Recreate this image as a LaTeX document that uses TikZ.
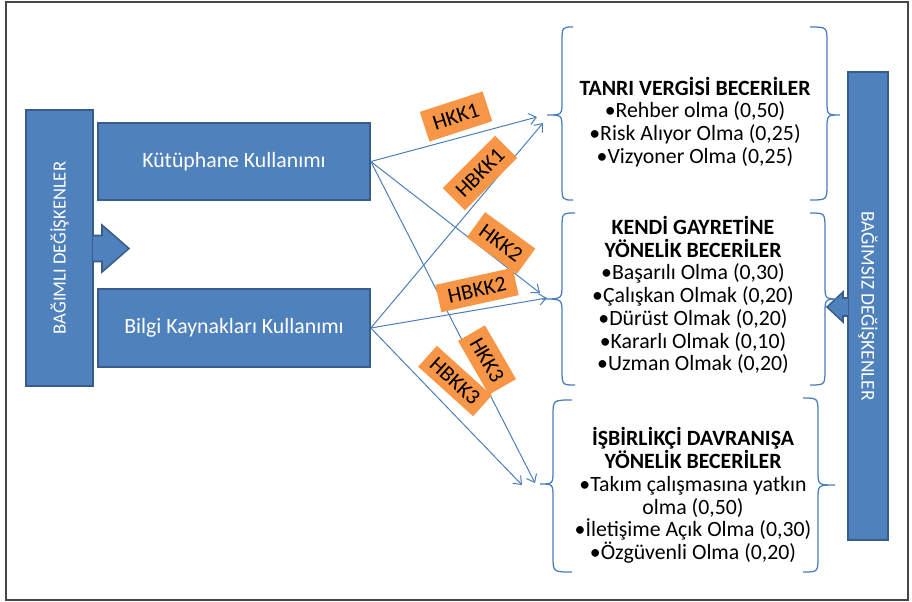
\documentclass[tikz,border=0pt]{standalone}
\usepackage{fontspec}
\setmainfont{Carlito}
\usepackage{tikz}
\usetikzlibrary{arrows.meta, positioning, calc}
\definecolor{boxblue}{RGB}{79, 129, 189}
\definecolor{boxborder}{RGB}{56, 93, 138}
\definecolor{linkblue}{RGB}{74, 126, 187}
\definecolor{tagorange}{RGB}{247, 150, 70}
\definecolor{framegray}{RGB}{70, 70, 70}

% curly bracket: end x, spine x, tip x, top y, tip y, bottom y
\newcommand{\curlbrace}[6]{%
  \draw[brace] (#1,#4) .. controls (#2,#4) .. (#2,{#4+16}) -- (#2,{#5-14})
    .. controls (#2,#5) .. (#3,#5) .. controls (#2,#5) .. (#2,{#5+14})
    -- (#2,{#6-16}) .. controls (#2,#6) .. (#1,#6);}

\begin{document}
\begin{tikzpicture}[
    x=0.025cm, y=-0.025cm,
    bluebox/.style={rectangle, draw=boxborder, fill=boxblue, line width=1.1pt, text=white, inner sep=0pt, font=\fontsize{15.5}{18}\selectfont, align=center},
    skill/.style={align=center, inner sep=0pt, font=\fontsize{15.5}{16.2}\selectfont},
    tag/.style={rectangle, fill=tagorange, inner xsep=0pt, inner ysep=0pt, minimum height=0.78cm, font=\fontsize{15.5}{16}\selectfont},
    brace/.style={draw=linkblue, line width=0.9pt},
    arrow/.style={-{Straight Barb[length=5pt, width=8pt]}, draw=linkblue, line width=0.7pt}
]
\useasboundingbox (0,0) rectangle (912,601);
\draw[framegray, line width=1.4pt] (6,2) rectangle (908,600);

% Left side
\node[bluebox, rotate=90, minimum width=6.9cm, minimum height=1.675cm, font=\fontsize{13.2}{16}\selectfont] (bagimli) at (59.5,248) {BAĞIMLI DEĞİŞKENLER};
\filldraw[fill=boxblue, draw=boxborder, line width=1.1pt] (93,235.5) -- (102,235.5) -- (102,225) -- (129,248.5) -- (102,272) -- (102,261.5) -- (93,261.5);
\node[bluebox, minimum width=6.8cm, minimum height=1.925cm] (kutuphane) at (234,161.5) {Kütüphane Kullanımı};
\node[bluebox, minimum width=6.8cm, minimum height=1.95cm] (bilgi) at (234,328) {Bilgi Kaynakları Kullanımı};

% Right side
\node[bluebox, rotate=-90, minimum width=11.7cm, minimum height=1.0cm, font=\fontsize{13.8}{16}\selectfont] (bagimsiz) at (868,306) {BAĞIMSIZ DEĞİŞKENLER};
\filldraw[fill=boxblue, draw=boxborder, line width=1.1pt] (848,298) -- (843,298) -- (843,292) -- (827,307) -- (843,322) -- (843,316) -- (848,316);

% Brackets
\curlbrace{573}{562}{547}{27}{115}{200}
\curlbrace{810}{827}{840}{27}{115}{200}
\curlbrace{575}{562}{542}{213}{299}{385}
\curlbrace{810}{825}{840}{213}{299}{385}
\curlbrace{572}{553}{540}{400}{484}{572}
\curlbrace{803}{818}{835}{398}{485}{572}

% Skill groups
\node[skill] (tanri) at (695,122) {\textbf{TANRI VERGİSİ BECERİLER}\\•Rehber olma (0,50)\\•Risk Alıyor Olma (0,25)\\•Vizyoner Olma (0,25)};
\node[skill] (gayret) at (693,295) {\textbf{KENDİ GAYRETİNE}\\\textbf{YÖNELİK BECERİLER}\\•Başarılı Olma (0,30)\\•Çalışkan Olmak (0,20)\\•Dürüst Olmak (0,20)\\•Kararlı Olmak (0,10)\\•Uzman Olmak (0,20)};
\node[skill] (isbirligi) at (693,495.5) {\textbf{İŞBİRLİKÇİ DAVRANIŞA}\\\textbf{YÖNELİK BECERİLER}\\•Takım çalışmasına yatkın\\olma (0,50)\\•İletişime Açık Olma (0,30)\\•Özgüvenli Olma (0,20)};

% Arrow ends
\coordinate (hkk1-end) at (537,117);
\coordinate (hbkk1-end) at (543,123);
\coordinate (hkk2-end) at (540,293);
\coordinate (hbkk2-end) at (547,298);
\coordinate (hkk3-end) at (535,483);
\coordinate (hbkk3-end) at (522,485);

% Arrows
\draw[arrow] (kutuphane.east) -- (hkk1-end);
\draw[arrow] (kutuphane.east) -- (hkk2-end);
\draw[arrow] (kutuphane.east) -- (hkk3-end);
\draw[arrow] (bilgi.east) -- (hbkk1-end);
\draw[arrow] (bilgi.east) -- (hbkk2-end);
\draw[arrow] (bilgi.east) -- (hbkk3-end);

% Tags
\node[tag, rotate=18, minimum width=1.65cm] (hkk1) at (456,116.5) {HKK1};
\node[tag, rotate=45, minimum width=1.85cm] (hbkk1) at (480,173) {HBKK1};
\node[tag, rotate=-36, minimum width=1.55cm] (hkk2) at (501,243) {HKK2};
\node[tag, rotate=12.5, minimum width=1.98cm, minimum height=0.7cm] (hbkk2) at (477,290) {HBKK2};
\node[tag, rotate=-60, minimum width=1.55cm] (hkk3) at (487,360) {HKK3};
\node[tag, rotate=-42, minimum width=1.85cm, minimum height=0.7cm] (hbkk3) at (455,381) {HBKK3};

\end{tikzpicture}
\end{document}
